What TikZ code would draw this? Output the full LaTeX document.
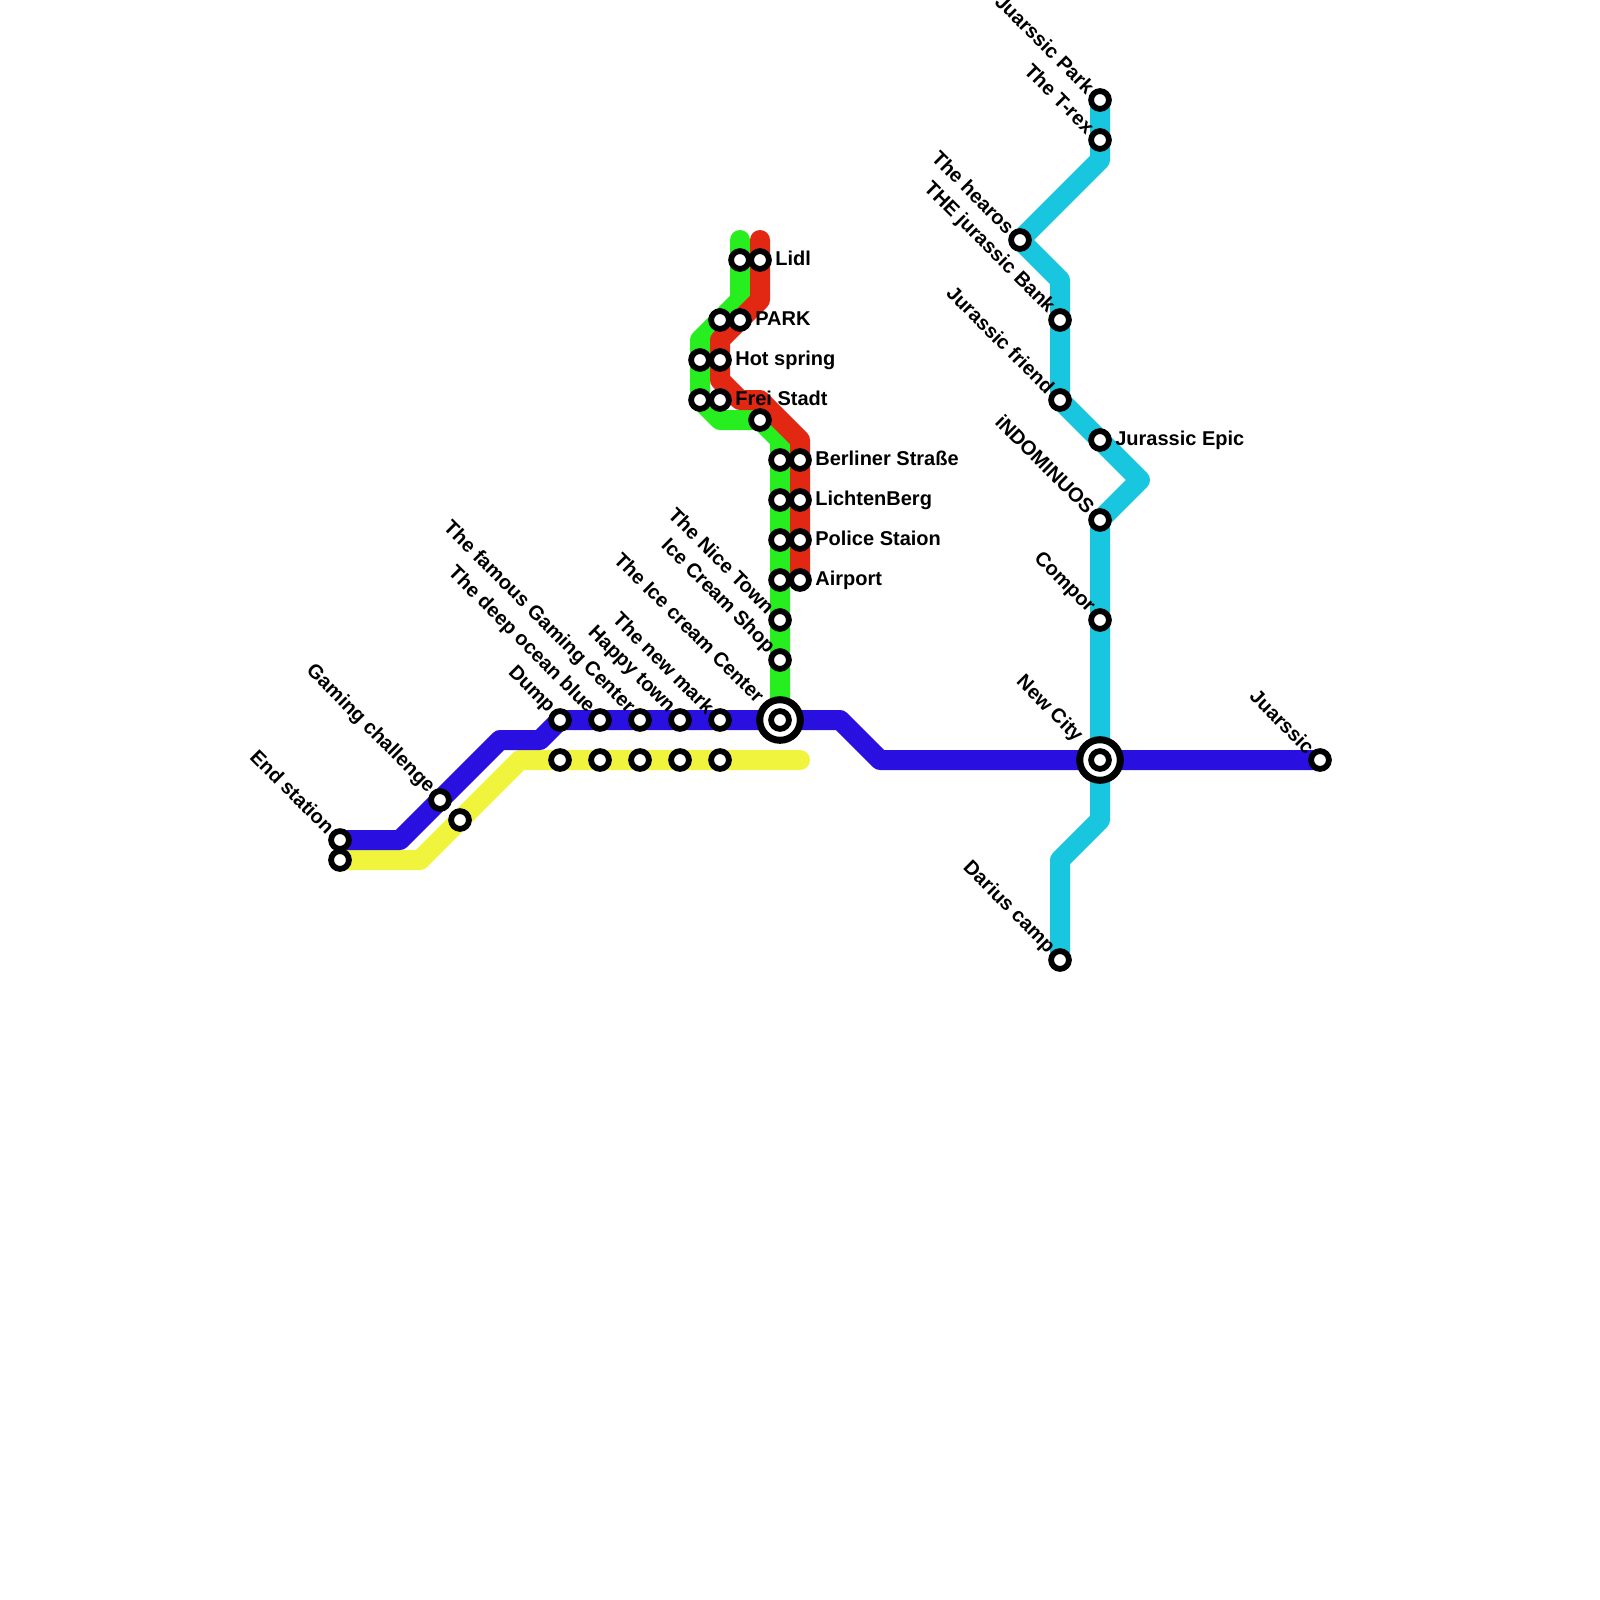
\documentclass[tikz,border=0pt]{standalone}
\usepackage{fontspec}
\setmainfont{Liberation Sans}
\usetikzlibrary{backgrounds}
\definecolor{cgreen}{HTML}{27EE1E}
\definecolor{cred}{HTML}{E22712}
\definecolor{cblue}{HTML}{2A10E0}
\definecolor{cyell}{HTML}{F1F43D}
\definecolor{ccyan}{HTML}{19C6E0}
\tikzset{
  stn/.style={circle,draw=black,fill=white,line width=5.8pt,minimum size=17.8pt,inner sep=0pt,outer sep=0pt},
  bigstn/.style={circle,draw=black,fill=white,line width=7pt,minimum size=40.6pt,inner sep=0pt,outer sep=0pt},
  lblR/.style={anchor=base west,inner sep=0pt,outer sep=0pt,font=\bfseries\fontsize{20}{22}\selectfont,text=black},
  lblA/.style={anchor=east,rotate=-45,inner sep=0pt,outer sep=0pt,font=\bfseries\fontsize{20}{22}\selectfont,text=black},
  route/.style={line width=20pt,line cap=round,line join=round},
}
\newcommand{\stR}[4]{\node[stn] (#1) at (#2,#3) {}; \node[lblR] (#1l) at (#2+15.3,#3+5.4) {#4};}
\newcommand{\stA}[4]{\node[stn] (#1) at (#2,#3) {}; \node[lblA] (#1l) at (#2-9,#3-10) {#4};}
\newcommand{\stP}[3]{\node[stn] (#1) at (#2,#3) {};}
\begin{document}
\begin{tikzpicture}[x=1pt,y=-1pt]
\useasboundingbox (0,0) rectangle (1600,1600);
\clip (0,0) rectangle (1600,1600);
% waypoints
\coordinate (g1) at (740,240);
\coordinate (g2) at (740,300);
\coordinate (g3) at (700,340);
\coordinate (g4) at (720,420);
\coordinate (g5) at (780,440);
\coordinate (r1) at (760,240);
\coordinate (r2) at (760,300);
\coordinate (r3) at (720,340);
\coordinate (r4) at (720,380);
\coordinate (r5) at (740,400);
\coordinate (r6) at (760,400);
\coordinate (r7) at (800,440);
\coordinate (b1) at (400,840);
\coordinate (b2) at (500,740);
\coordinate (b3) at (540,740);
\coordinate (b4) at (840,720);
\coordinate (b5) at (880,760);
\coordinate (y1) at (420,860);
\coordinate (y2) at (520,760);
\coordinate (y3) at (800,760);
\coordinate (c1) at (1100,160);
\coordinate (c2) at (1060,280);
\coordinate (c3) at (1140,480);
\coordinate (c4) at (1100,820);
\coordinate (c5) at (1060,860);
% stations, green and red
\stP{lidlg}{740}{260}
\stR{lidl}{760}{260}{Lidl}
\stP{parkg}{720}{320}
\stR{park}{740}{320}{PARK}
\stP{hotg}{700}{360}
\stR{hot}{720}{360}{Hot spring}
\stP{freig}{700}{400}
\stR{frei}{720}{400}{Frei Stadt}
\stP{mid}{760}{420}
\stP{berg}{780}{460}
\stR{ber}{800}{460}{Berliner Straße}
\stP{lichg}{780}{500}
\stR{lich}{800}{500}{LichtenBerg}
\stP{polg}{780}{540}
\stR{pol}{800}{540}{Police Staion}
\stP{airg}{780}{580}
\stR{air}{800}{580}{Airport}
\stA{nice}{780}{620}{The Nice Town}
\stA{shop}{780}{660}{Ice Cream Shop}
\node[bigstn] (icc) at (780,720) {};
\stP{icci}{780}{720}
\node[lblA] (iccl) at (761,699) {The Ice cream Center};
% stations, blue and yellow
\stA{endb}{340}{840}{End station}
\stP{endy}{340}{860}
\stA{game}{440}{800}{Gaming challenge}
\stP{gamey}{460}{820}
\stA{dump}{560}{720}{Dump}
\stA{deep}{600}{720}{The deep ocean blue}
\stA{famous}{640}{720}{The famous Gaming Center}
\stA{happy}{680}{720}{Happy town}
\stA{newm}{720}{720}{The new mark}
\stP{dumpy}{560}{760}
\stP{deepy}{600}{760}
\stP{famy}{640}{760}
\stP{happyy}{680}{760}
\stP{newy}{720}{760}
% stations, cyan
\stA{park1}{1100}{100}{Juarssic Park}
\stA{trex}{1100}{140}{The T-rex}
\stA{hearos}{1020}{240}{The hearos}
\stA{bank}{1060}{320}{THE jurassic Bank}
\stA{friend}{1060}{400}{Jurassic friend}
\stR{epic}{1100}{440}{Jurassic Epic}
\stA{indo}{1100}{520}{iNDOMINUOS}
\stA{compor}{1100}{620}{Compor}
\node[bigstn] (newc) at (1100,760) {};
\stP{newci}{1100}{760}
\node[lblA] (newcl) at (1079,739) {New City};
\stA{jua}{1320}{760}{Juarssic}
\stA{darius}{1060}{960}{Darius camp}
\begin{scope}[on background layer]
\draw[route,cgreen] (g1) -- (lidlg.center) -- (g2) -- (g3) -- (hotg.center) -- (freig.center) -- (g4) -- (mid.center) -- (g5) -- (berg.center) -- (lichg.center) -- (polg.center) -- (airg.center) -- (nice.center) -- (shop.center) -- (icc.center);
\draw[route,cred] (r1) -- (lidl.center) -- (r2) -- (r3) -- (hot.center) -- (r4) -- (r5) -- (r6) -- (r7) -- (ber.center) -- (lich.center) -- (pol.center) -- (air.center);
\draw[route,cyell] (endy.center) -- (y1) -- (gamey.center) -- (y2) -- (dumpy.center) -- (deepy.center) -- (famy.center) -- (happyy.center) -- (newy.center) -- (y3);
\draw[route,ccyan] (park1.center) -- (trex.center) -- (c1) -- (hearos.center) -- (c2) -- (bank.center) -- (friend.center) -- (epic.center) -- (c3) -- (indo.center) -- (compor.center) -- (newc.center) -- (c4) -- (c5) -- (darius.center);
\draw[route,cblue] (endb.center) -- (b1) -- (game.center) -- (b2) -- (b3) -- (dump.center) -- (deep.center) -- (famous.center) -- (happy.center) -- (newm.center) -- (icc.center) -- (b4) -- (b5) -- (newc.center) -- (jua.center);
\end{scope}
\end{tikzpicture}
\end{document}
